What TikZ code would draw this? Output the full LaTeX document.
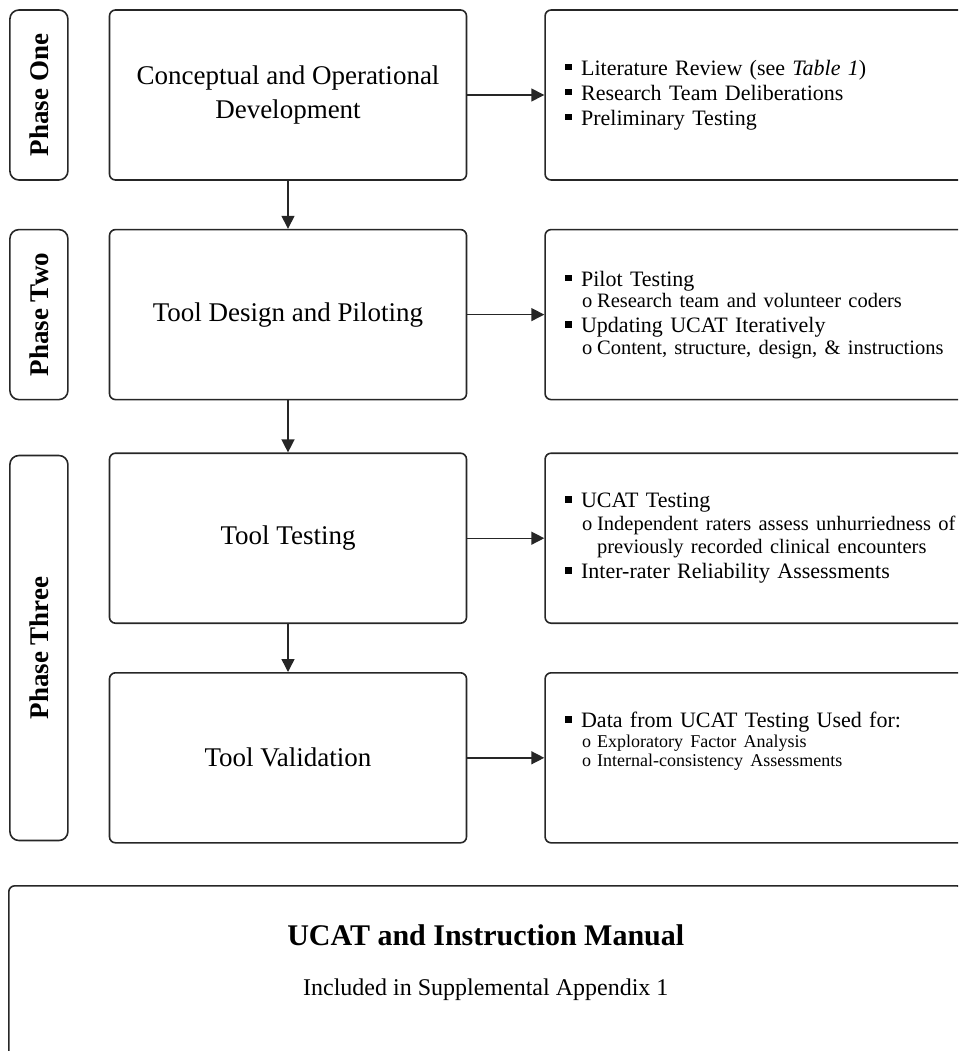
\documentclass[tikz,border=0pt]{standalone}
\usepackage{fontspec}
\setmainfont{Liberation Serif}
\usetikzlibrary{positioning,arrows.meta,calc}

% list markers used in the right-hand boxes
\newcommand{\bitem}{\makebox[16pt][l]{\rule[0.22em]{0.3em}{0.3em}}}
\newcommand{\sitem}{\hspace*{17pt}\makebox[15pt][l]{o}}
\newcommand{\sgap}{\hspace*{32pt}}
\newcommand{\subsize}{\fontsize{20.5}{23}\selectfont}

\begin{document}
\begin{tikzpicture}[x=1pt, y=1pt, >={Triangle[length=13pt,width=13pt]}]
    \tikzstyle{mainbox} = [rectangle, rounded corners=6pt, minimum width=357pt, minimum height=170pt, text centered, align=center, draw=black!85, line width=1.6pt, font=\fontsize{27}{34}\selectfont]
    \tikzstyle{phasebox} = [rectangle, rounded corners=9pt, minimum width=58pt, text centered, draw=black!85, line width=1.6pt, font=\fontsize{27}{32}\selectfont\bfseries]
    \tikzstyle{listbox} = [rectangle, rounded corners=6pt, text width=420pt, inner xsep=20pt, minimum height=170pt, align=left, draw=black!85, line width=1.6pt, font=\fontsize{22}{25}\selectfont]
    \tikzstyle{link} = [->, line width=1.4pt, draw=black!85]

    \useasboundingbox (0,0) rectangle (958,-1051);
    \clip (0,0) rectangle (958,-1051);

    % Phase one
    \node [mainbox] (concept) at (288,-95) {Conceptual and Operational\\Development};
    \node [listbox, right=77pt of concept] (concept_list) {%
        \bitem Literature Review (see \textit{Table 1})\par
        \bitem Research Team Deliberations\par
        \bitem Preliminary Testing\par};
    \node [phasebox, minimum height=170pt, left=40pt of concept] (phase_one) {\rotatebox{90}{Phase One}};

    % Phase two
    \node [mainbox, below=48pt of concept] (design) {Tool Design and Piloting};
    \node [listbox, right=77pt of design] (design_list) {%
        \bitem Pilot Testing\par
        {\fontsize{20.5}{21.5}\selectfont\sitem Research team and volunteer coders\par}
        \bitem Updating UCAT Iteratively\par
        {\fontsize{20.5}{21.5}\selectfont\sitem Content, structure, design, \& instructions\par}};
    \node [phasebox, minimum height=170pt, left=40pt of design] (phase_two) {\rotatebox{90}{Phase Two}};

    % Phase three
    \node [mainbox, below=52pt of design] (testing) {Tool Testing};
    \node [listbox, right=77pt of testing] (testing_list) {%
        \bitem UCAT Testing\par
        {\subsize\sitem Independent raters assess unhurriedness of\par
        \sgap previously recorded clinical encounters\par}
        \bitem Inter-rater Reliability Assessments\par};
    \node [mainbox, below=48pt of testing] (validation) {Tool Validation};
    \node [listbox, right=77pt of validation, text depth=76pt] (validation_list) {%
        \bitem Data from UCAT Testing Used for:\par
        {\fontsize{18}{19.5}\selectfont\sitem Exploratory Factor Analysis\par
        \sitem Internal-consistency Assessments\par}};
    \node [phasebox, minimum height=385pt, anchor=east] (phase_three) at ($(testing.west)!0.5!(validation.west)+(-40pt,0)$) {\rotatebox{90}{Phase Three}};

    % Manual
    \node [rectangle, rounded corners=6pt, minimum width=954pt, minimum height=220pt, anchor=north west, draw=black!85, line width=1.6pt] (manual) at (8,-885) {};
    \node [anchor=base, font=\fontsize{30}{36}\selectfont\bfseries] (manual_title) at ($(manual.north)+(0,-60pt)$) {UCAT and Instruction Manual};
    \node [anchor=base, font=\fontsize{24}{29}\selectfont] (manual_note) at ($(manual.north)+(0,-110pt)$) {Included in Supplemental Appendix 1};

    % Connections
    \draw [link] (concept) -- (design);
    \draw [link] (design) -- (testing);
    \draw [link] (testing) -- (validation);

    \draw [link] (concept) -- (concept_list);
    \draw [link] (design) -- (design_list);
    \draw [link] (testing) -- (testing_list);
    \draw [link] (validation) -- (validation_list);
\end{tikzpicture}
\end{document}
